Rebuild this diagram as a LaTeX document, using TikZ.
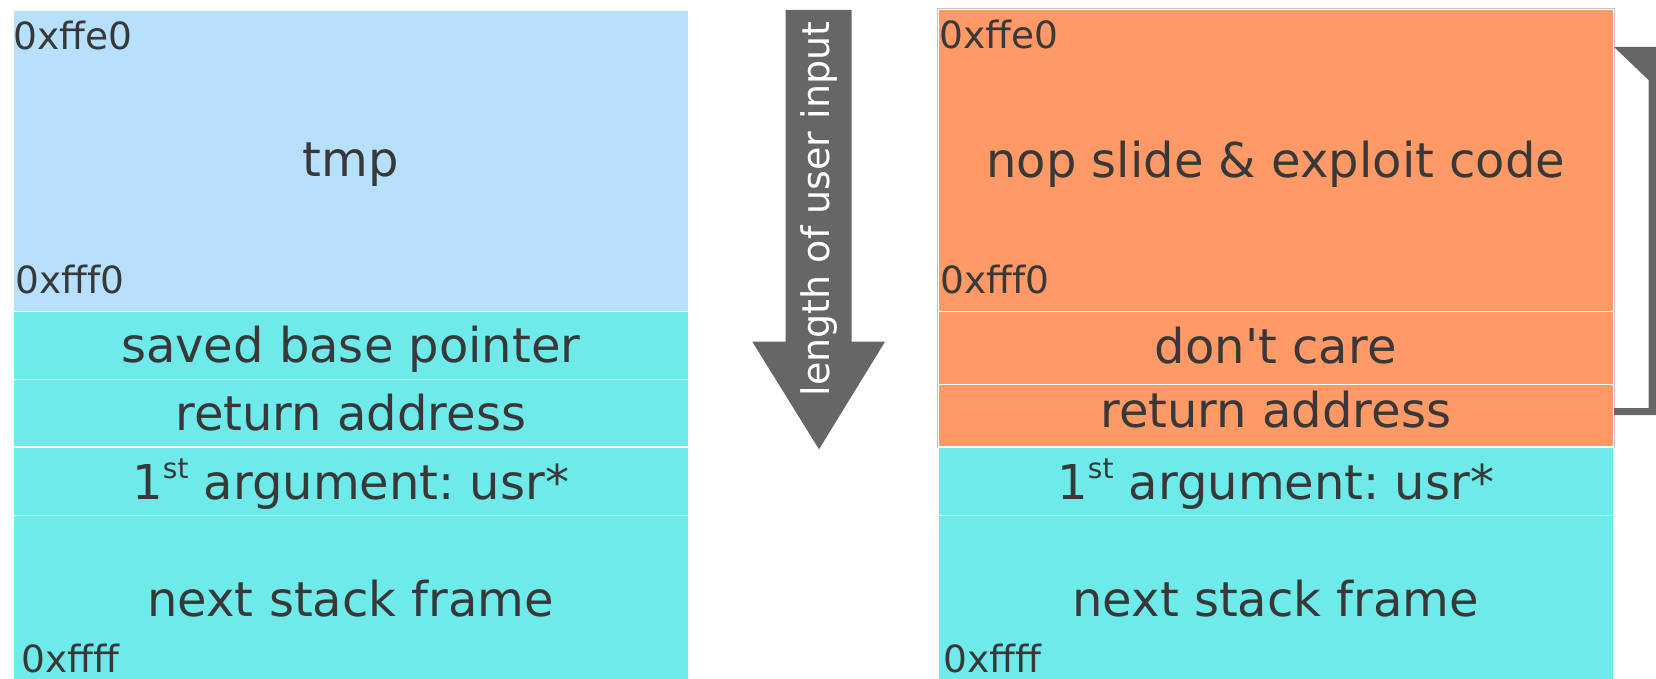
\documentclass[tikz,border=0pt]{standalone}
\usepackage{fontspec}
\newfontfamily\dv{DejaVu Sans}
\frenchspacing
\definecolor{tmpblue}{HTML}{B6E0FE}
\definecolor{frame}{HTML}{6EEAEA}
\definecolor{payload}{HTML}{FF9966}
\definecolor{arrowgray}{HTML}{666666}
\definecolor{ink}{HTML}{383838}
\definecolor{edge}{HTML}{C4C4C4}
\tikzset{
  cell/.style={rectangle, inner sep=0pt, draw=white, line width=1.3pt,
               minimum width=675.5pt},
  big/.style={anchor=base, inner sep=0pt, text=ink,
              font=\dv\fontsize{48}{58}\selectfont},
  addr/.style={anchor=base west, inner sep=0pt, text=ink,
               font=\dv\fontsize{37.5}{45}\selectfont},
}
\newcommand{\firstsup}{1\raisebox{20.7pt}{\fontsize{28}{32}\selectfont st}}
\begin{document}
\begin{tikzpicture}[x=1pt, y=-1pt]
\useasboundingbox (0,0) rectangle (1656,679);

% ---- original stack frame ----
\node[cell, fill=tmpblue, minimum height=301.5pt] (Ltmp)  at (350.75,160.75) {};
\node[cell, fill=frame,   minimum height=68pt]    (Lsbp)  at (350.75,345.5) {};
\node[cell, fill=frame,   minimum height=67.5pt]  (Lret)  at (350.75,413.25) {};
\node[cell, fill=frame,   minimum height=68.3pt]  (Larg)  at (350.75,481.15) {};
\node[cell, fill=frame,   minimum height=170pt]   (Lnext) at (350.75,600.3) {};

\node[big] (tLtmp)  at (350.75,176.7) {tmp};
\node[big] (tLsbp)  at (350.75,362.3) {saved base pointer};
\node[big] (tLret)  at (350.75,430)   {return address};
\node[big] (tLarg)  at (350.75,499)   {\firstsup\ argument: usr*};
\node[big] (tLnext) at (350.75,616.7) {next stack frame};

\node[addr] (aL1) at (13,49.3)  {0xffe0};
\node[addr] (aL2) at (15.5,293) {0xfff0};
\node[addr] (aL3) at (21,672)   {0xffff};

% ---- direction of the overflow ----
\fill[arrowgray] (785.7,10) -- (851.7,10) -- (851.7,341.7) -- (885,341.7)
  -- (819,449.3) -- (752.3,341.7) -- (785.7,341.7) -- cycle;
\node[rotate=90, inner sep=0pt, text=white,
      font=\dv\fontsize{38}{45}\selectfont] (len) at (819,209) {length of user input};

% ---- overflowed stack frame ----
\node[cell, fill=payload, minimum height=302pt]  (Rcode) at (1275.75,160.5) {};
\node[cell, fill=payload, minimum height=72.7pt] (Rdc)   at (1275.75,347.85) {};
\node[cell, fill=payload, minimum height=62.8pt] (Rret)  at (1275.75,415.6) {};
\node[cell, fill=frame,   minimum height=68.3pt] (Rarg)  at (1275.75,481.15) {};
\node[cell, fill=frame,   minimum height=170pt]  (Rnext) at (1275.75,600.3) {};
\draw[edge, line width=0.8pt] (Rret.south west) -- (Rcode.north west)
  -- (Rcode.north east) -- (Rret.south east);

\node[big] (tRcode) at (1275.75,178)   {nop slide \& exploit code};
\node[big] (tRdc)   at (1275.75,363.3) {don't care};
\node[big] (tRret)  at (1275.75,427.7) {return address};
\node[big] (tRarg)  at (1275.75,499)   {\firstsup\ argument: usr*};
\node[big] (tRnext) at (1275.75,616)   {next stack frame};

\node[addr] (aR1) at (939,49)  {0xffe0};
\node[addr] (aR2) at (940,293) {0xfff0};
\node[addr] (aR3) at (943,672) {0xffff};

% ---- return address points back into the payload ----
\coordinate (hook) at (1614,47);
\coordinate (foot) at (1614,415);
\fill[arrowgray] (hook) -- (1656,47) -- (1656,415) -- (foot) -- (1614,408)
  -- (1648.5,408) -- (1648.5,80) -- cycle;
\end{tikzpicture}
\end{document}
